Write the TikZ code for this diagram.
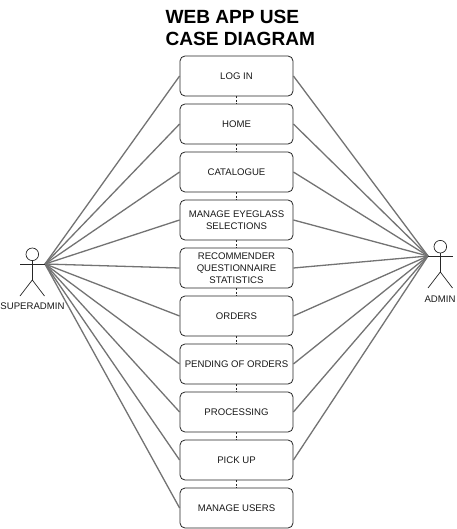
\documentclass[tikz,border=0pt]{standalone}
\usepackage{fontspec}
\setmainfont{Liberation Sans}
\begin{document}
\begin{tikzpicture}[x=1pt,y=-1pt,
  usecase/.style={draw=black!85,line width=0.8pt,rounded corners=5pt,minimum width=113pt,minimum height=40pt,inner sep=0pt,align=center,font=\fontsize{9.6}{12}\selectfont,text=black!90,fill=white},
  assoc/.style={draw=black!55,line width=1.3pt},
  incl/.style={draw=black!85,line width=0.7pt,dash pattern=on 2pt off 1.5pt},
  stick/.style={draw=black!85,line width=0.7pt},
  plain/.style={inner sep=0pt,font=\fontsize{9.6}{12}\selectfont,text=black!90},
  titletext/.style={inner sep=0pt,anchor=base west,font=\fontsize{19.1}{23}\selectfont\bfseries}]
\useasboundingbox[fill=white] (0,0) rectangle (456,529);
\node[titletext] (t1) at (165.3,23.3) {WEB APP USE};
\node[titletext] (t2) at (165.3,46) {CASE DIAGRAM};
\coordinate (hubL) at (45,264);
\coordinate (hubR) at (428,256);
\foreach \n/\y/\txt in {a/76/LOG IN,b/124/HOME,c/172/CATALOGUE,d/220/{MANAGE EYEGLASS\\SELECTIONS},e/268/{RECOMMENDER\\QUESTIONNAIRE\\STATISTICS},f/316/ORDERS,g/364/PENDING OF ORDERS,h/412/PROCESSING,i/460/PICK UP,j/508/MANAGE USERS}
  \node[usecase] (\n) at (236.5,\y) {\txt};
\foreach \n in {a,b,c,d,e,f,g,h,i,j}
  \draw[assoc] (hubL) -- (\n.west);
\foreach \n in {a,b,c,d,e,f,g,h,i}
  \draw[assoc] (hubR) -- (\n.east);
\foreach \p/\q in {a/b,b/c,c/d,d/e,e/f,f/g,g/h,h/i,i/j}
  \draw[incl] (\p.south) -- (\q.north);
% SUPERADMIN actor
\node[circle,stick,minimum size=12.6pt,inner sep=0pt] (headL) at (32.3,254.3) {};
\coordinate (hipL) at (32.3,280);
\coordinate (armLa) at (20,264);
\coordinate (footLa) at (20,296);
\coordinate (footLb) at (44.5,296);
\draw[stick] (headL.south) -- (hipL);
\draw[stick] (armLa) -- (hubL);
\draw[stick] (footLa) -- (hipL) -- (footLb);
\node[plain] (labL) at (32.5,306) {SUPERADMIN};
% ADMIN actor
\node[circle,stick,minimum size=12.6pt,inner sep=0pt] (headR) at (440.3,246.7) {};
\coordinate (hipR) at (440.3,272);
\coordinate (armRb) at (452.5,256);
\coordinate (footRa) at (428,288);
\coordinate (footRb) at (452.5,288);
\draw[stick] (headR.south) -- (hipR);
\draw[stick] (hubR) -- (armRb);
\draw[stick] (footRa) -- (hipR) -- (footRb);
\node[plain] (labR) at (440,298.7) {ADMIN};
\end{tikzpicture}
\end{document}
